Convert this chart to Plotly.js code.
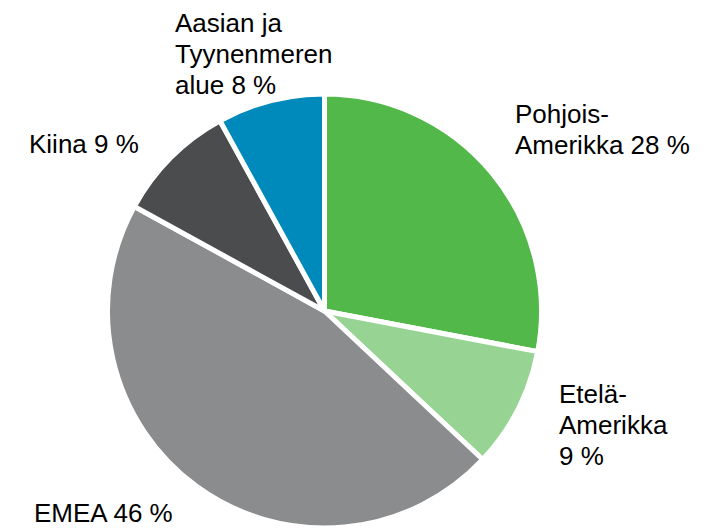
<!DOCTYPE html>
<html>
<head>
<meta charset="utf-8">
<script src="https://cdn.plot.ly/plotly-3.0.1.min.js"></script>
<style>
  html, body { margin: 0; padding: 0; background: #fff; overflow: hidden; }
  #alueet { width: 718px; height: 528px; }
</style>
</head>
<body>
<div id="alueet"></div>
<script>
// alueet, myötäpäivään klo 12:sta
var alueet = ['Pohjois-Amerikka', 'Etelä-Amerikka', 'EMEA', 'Kiina', 'Aasian ja Tyynenmeren alue'];
var osuudet = [28, 9, 46, 9, 8];
var tekstit = ['Pohjois-<br>Amerikka 28 %', 'Etelä-<br>Amerikka<br>9 %', 'EMEA 46 %', 'Kiina 9 %', 'Aasian ja<br>Tyynenmeren<br>alue 8 %'];
var varit = ['#52b84a', '#97d494', '#8b8c8e', '#4b4c4e', '#0089bb'];

// tekstien paikat pikseleinä: vasen reuna, ensimmäisen rivin perusviiva
var paikat = [[514, 122], [558, 402], [33, 521], [28, 152], [174, 31]];
var riviväli = 31;
var W = 718, H = 528;

var merkinnat = [];
tekstit.forEach(function (t, i) {
  t.split('<br>').forEach(function (rivi, j) {
    merkinnat.push({
      text: rivi,
      xref: 'paper', yref: 'paper',
      x: paikat[i][0] / W,
      y: 1 - (paikat[i][1] + j * riviväli - 8) / H,
      xanchor: 'left', yanchor: 'middle',
      showarrow: false,
      borderpad: 0,
      font: {family: 'Liberation Sans, Arial, sans-serif', size: 26, color: '#000000'}
    });
  });
});

var data = [{
  type: 'pie',
  labels: alueet,
  values: osuudet,
  textinfo: 'none',
  hoverinfo: 'none',
  sort: false,
  direction: 'clockwise',
  rotation: 0,
  marker: {colors: varit, line: {color: '#ffffff', width: 5}},
  domain: {x: [0.1483, 0.7556], y: [0, 0.822]}
}];

var layout = {
  width: W,
  height: H,
  margin: {l: 0, r: 0, t: 0, b: 0},
  showlegend: false,
  paper_bgcolor: '#ffffff',
  annotations: merkinnat
};

Plotly.newPlot('alueet', data, layout, {displayModeBar: false});
</script>
</body>
</html>
